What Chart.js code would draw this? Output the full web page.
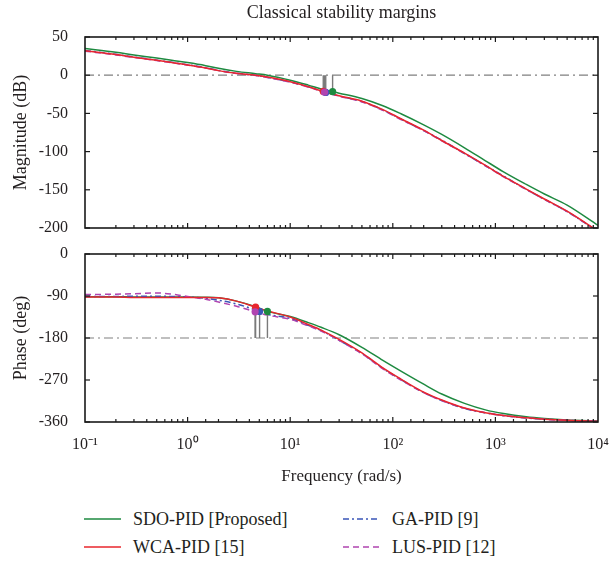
<!DOCTYPE html>
<html><head><meta charset="utf-8">
<script src="https://cdn.jsdelivr.net/npm/chart.js@4.4.1/dist/chart.umd.min.js"></script>
<style>
html,body{margin:0;padding:0;background:#fff;}
#wrap{position:relative;width:610px;height:565px;overflow:hidden;font-family:'Liberation Serif',serif;color:#231f20;}
#c1{position:absolute;left:0;top:0;}
#c2{position:absolute;left:0;top:240px;}
.lg{position:absolute;font-size:18px;line-height:20px;white-space:nowrap;}
.ls{position:absolute;}
</style></head><body>
<div id="wrap">
<canvas id="c1" width="610" height="240"></canvas>
<canvas id="c2" width="610" height="260"></canvas>
<div id="legend"></div>
</div>
<script>
// ---------- data ----------
const FREQ = [0.1,0.2,0.3,0.5,0.7,1,1.5,2,3,4.6,6,10,15,20,30,50,80,120,200,300,500,800,1200,2000,3000,5000,10000];
const SERIES_NAMES = ['SDO-PID [Proposed]','WCA-PID [15]','GA-PID [9]','LUS-PID [12]'];
const MAG_SDO = [35,30,26.5,22.5,19.5,16.5,12.5,9,5,2,0,-6.5,-13,-18,-23.5,-30.5,-40,-50.5,-65,-77.5,-95,-112,-126.5,-143,-155.5,-170,-196.5];
const MAG_WCA = [32,27,23.5,19.5,16.5,13.5,9.5,6,2.5,0,-2.5,-8.5,-15,-20.5,-27,-34,-45,-57,-72,-85.5,-102,-118,-132.5,-149,-162,-178,-204];
const MAG_GA  = [32.5,27.3,23.8,19.7,16.8,13.7,9.8,6.3,2.6,-0.2,-2.8,-8.8,-15.2,-20.8,-27.3,-34.5,-45.5,-57.5,-72.5,-85,-102.5,-118.5,-132,-149.5,-162.5,-178.5,-204.5];
const MAG_LUS = [31.5,26.5,23.2,19.2,16.3,13.2,9.5,6,2.3,-0.3,-3,-9,-15.5,-21,-27.5,-35,-46,-58,-72.5,-86,-102.5,-118.5,-133,-149.5,-162.5,-178.5,-204.5];
const PHASE_SDO = [-91.5,-91.5,-92,-92,-92,-92,-92.5,-94,-101,-113,-123,-134,-147,-157,-173,-200,-228,-251,-279,-300,-320,-334,-342,-349,-352.5,-355.5,-358];
const PHASE_WCA = [-92,-92,-93,-93,-93,-93,-93,-94,-101,-114,-122,-135,-151,-163,-183,-212,-244,-268,-296,-313,-330,-340,-346,-351,-354,-356.5,-358.5];
const PHASE_GA  = [-91,-91,-90.5,-90.5,-91,-92,-95,-99,-107,-120,-129,-138,-153,-164,-185,-213,-245,-269,-297,-314,-331,-340.5,-346.5,-351.5,-354,-356.5,-358.5];
const PHASE_LUS = [-87,-86,-85,-83.5,-86,-91,-97,-103,-112,-124,-131,-140,-154,-165,-185,-214,-246,-270,-297,-314,-330.5,-340,-346,-351,-354,-356.5,-358.5];
// stability margin markers: [SDO, WCA, GA, LUS]
const GM_FREQ  = [25.9, 21.0, 22.2, 21.6];
const GM_MAG   = [-21.5, -21.3, -22.5, -22.2];
const PM_FREQ  = [6.0, 4.6, 5.03, 4.55];
const PM_PHASE = [-123, -114, -123, -124];
const MAG_REF = 0, PHASE_REF = -180;
const X_DECADES = [0.1, 1, 10, 100, 1000, 10000];
const X_TICK_LABELS = ['10\u207B\u00B9','10\u2070','10\u00B9','10\u00B2','10\u00B3','10\u2074'];
const MAG_RANGE = [-200, 50, 50];     // min, max, step
const PHASE_RANGE = [-360, 0, 90];

// ---------- styles ----------
const COLORS = ['#1e8a40','#e8262d','#3a55b8','#b044b0'];
const DASHES = [[], [], [6,3,2,3], [6,4]];
const ORDERS = [8, 5, 7, 6];
const FONT = "'Liberation Serif', serif";
const TXT = '#231f20';

const pts = (xs, ys) => xs.map((x, i) => ({x, y: ys[i]}));

function curveSets(arrs) {
  return arrs.map((a, i) => ({
    label: SERIES_NAMES[i], data: pts(FREQ, a), borderColor: COLORS[i], borderWidth: 1.5,
    borderDash: DASHES[i], pointRadius: 0, cubicInterpolationMode: 'monotone', order: ORDERS[i], fill: false
  }));
}
function refSet(v) {
  return {data: [{x: X_DECADES[0], y: v}, {x: X_DECADES[X_DECADES.length - 1], y: v}],
    borderColor: '#808080', borderWidth: 1.2, borderDash: [9,4,2,4], pointRadius: 0, order: 20};
}
function stemSets(fr, vals, ref) {
  return fr.map((f, i) => ({data: [{x: f, y: ref}, {x: f, y: vals[i]}], borderColor: '#7a7a7a',
    borderWidth: 1.4, pointRadius: 0, order: 3}));
}
function markerSets(fr, vals) {
  const idx = [0, 2, 1, 3];
  return idx.map((i, k) => ({data: [{x: fr[i], y: vals[i]}], showLine: false, pointRadius: 3.6,
    pointBackgroundColor: COLORS[i], pointBorderColor: COLORS[i], pointBorderWidth: 0, order: 2 - k * 0.1}));
}

const framePlugin = {
  id: 'frame',
  afterDraw(chart) {
    const {ctx, chartArea: a, scales} = chart;
    ctx.save();
    ctx.strokeStyle = '#1a1a1a'; ctx.lineWidth = 1.2;
    const ln = (x1, y1, x2, y2) => { ctx.beginPath(); ctx.moveTo(x1, y1); ctx.lineTo(x2, y2); ctx.stroke(); };
    const xs = scales.x;
    xs.ticks.forEach(t => {
      const px = xs.getPixelForValue(t.value);
      if (px < a.left + 0.5 || px > a.right - 0.5) return;
      const lg = Math.log10(t.value);
      const L = Math.abs(lg - Math.round(lg)) < 1e-6 ? 5 : 3;
      ln(px, a.bottom, px, a.bottom - L); ln(px, a.top, px, a.top + L);
    });
    const ys = scales.y;
    ys.ticks.forEach(t => {
      const py = ys.getPixelForValue(t.value);
      ln(a.left, py, a.left + 5, py); ln(a.right, py, a.right - 5, py);
    });
    ctx.lineWidth = 1.6;
    ctx.strokeRect(a.left, a.top, a.right - a.left, a.bottom - a.top);
    ctx.restore();
  }
};

function xLabel(v) {
  const lg = Math.log10(v);
  if (Math.abs(lg - Math.round(lg)) > 1e-6) return '';
  const i = X_DECADES.findIndex(d => Math.abs(Math.log10(d) - lg) < 1e-6);
  return i >= 0 ? X_TICK_LABELS[i] : '';
}

function makeOptions(range, yTitle, isBottom, title) {
  return {
    responsive: false, animation: false, devicePixelRatio: 1,
    layout: {padding: {left: 0, right: 12, top: isBottom ? 14 : 0, bottom: isBottom ? 8 : 12}},
    plugins: {
      legend: {display: false}, tooltip: {enabled: false},
      title: title ? {display: true, text: title, fullSize: false, color: TXT,
        font: {family: FONT, size: 18, weight: 'normal'}, padding: {top: 2, bottom: 13.4}} : {display: false}
    },
    scales: {
      x: {
        type: 'logarithmic', min: X_DECADES[0], max: X_DECADES[X_DECADES.length - 1],
        grid: {display: false}, border: {display: false},
        ticks: {display: isBottom, autoSkip: false, maxRotation: 0, padding: 5, color: TXT,
          font: {family: FONT, size: 16}, callback: (v) => xLabel(v)},
        title: {display: isBottom, text: 'Frequency (rad/s)', color: TXT,
          font: {family: FONT, size: 17}, padding: {top: 0, bottom: 5}},
        afterFit: (s) => { s.height = isBottom ? 70 : 0; s.paddingLeft = 0; s.paddingRight = 0; }
      },
      y: {
        min: range[0], max: range[1],
        grid: {display: false}, border: {display: false},
        ticks: {stepSize: range[2], padding: 9, color: TXT, font: {family: FONT, size: 16},
          callback: (v) => String(v)},
        title: {display: true, text: yTitle, color: TXT, font: {family: FONT, size: 18},
          padding: {top: 10, bottom: 0}},
        afterFit: (s) => { s.width = 85; s.paddingTop = 0; s.paddingBottom = 0; }
      }
    }
  };
}

new Chart(document.getElementById('c1'), {
  type: 'line',
  data: {datasets: [refSet(MAG_REF), ...curveSets([MAG_SDO, MAG_WCA, MAG_GA, MAG_LUS]),
    ...stemSets(GM_FREQ, GM_MAG, MAG_REF), ...markerSets(GM_FREQ, GM_MAG)]},
  options: makeOptions(MAG_RANGE, 'Magnitude (dB)', false, 'Classical stability margins'),
  plugins: [framePlugin]
});
new Chart(document.getElementById('c2'), {
  type: 'line',
  data: {datasets: [refSet(PHASE_REF), ...curveSets([PHASE_SDO, PHASE_WCA, PHASE_GA, PHASE_LUS]),
    ...stemSets(PM_FREQ, PM_PHASE, PHASE_REF), ...markerSets(PM_FREQ, PM_PHASE)]},
  options: makeOptions(PHASE_RANGE, 'Phase (deg)', true, null),
  plugins: [framePlugin]
});

// ---------- legend ----------
const LEG_POS = [[84, 519], [84, 547], [343, 519], [343, 547]];
const leg = document.getElementById('legend');
SERIES_NAMES.forEach((name, i) => {
  const [x, y] = LEG_POS[i];
  const svg = `<svg class="ls" style="left:${x}px;top:${y - 5}px" width="37" height="10"><line x1="0" y1="5" x2="37" y2="5" stroke="${COLORS[i]}" stroke-width="1.5" stroke-dasharray="${DASHES[i].join(',') || 'none'}"/></svg>`;
  leg.insertAdjacentHTML('beforeend', svg + `<div class="lg" style="left:${x + 49}px;top:${y - 10}px">${name}</div>`);
});
</script>
</body></html>
